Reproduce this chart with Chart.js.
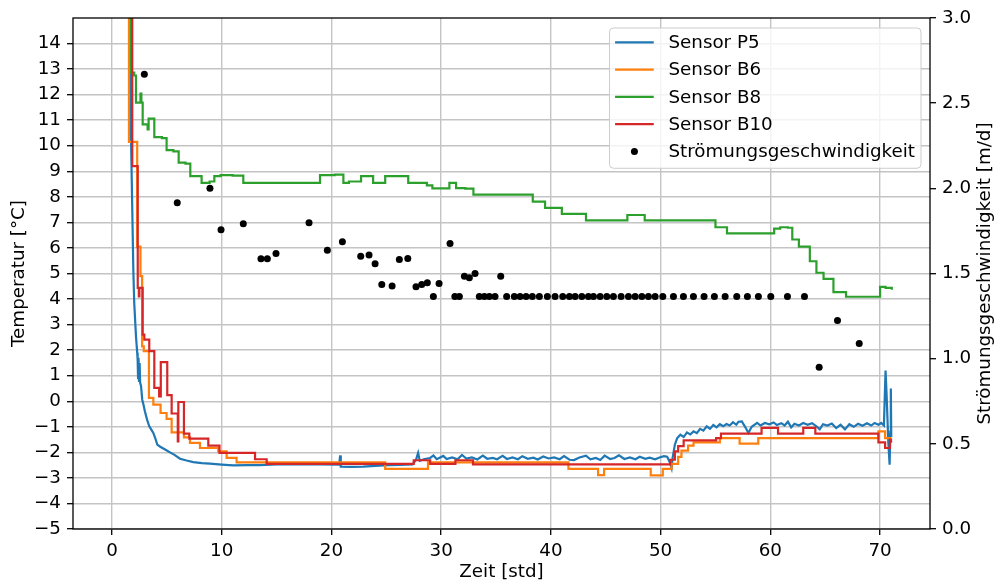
<!DOCTYPE html>
<html>
<head>
<meta charset="utf-8">
<script src="https://cdn.jsdelivr.net/npm/chart.js@4.4.1/dist/chart.umd.min.js"></script>
<style>
  body { margin: 0; background: #fff; }
  canvas { display: block; }
</style>
</head>
<body>
<canvas id="chart" width="996" height="583"></canvas>
<script>
// tick positions
const timeTicks = [0, 10, 20, 30, 40, 50, 60, 70];
const tempTicks = [-5, -4, -3, -2, -1, 0, 1, 2, 3, 4, 5, 6, 7, 8, 9, 10, 11, 12, 13, 14];
const speedTicks = [0, 0.5, 1.0, 1.5, 2.0, 2.5, 3.0];

const seriesLabels = ['Sensor P5', 'Sensor B6', 'Sensor B8', 'Sensor B10', 'Strömungsgeschwindigkeit'];

// [Zeit, Temperatur] - P5 is a plain line, the B sensors change value at each point
const sensorP5 = [
  [1.6, 22], [1.75, 10.0], [1.95, 5.1], [2.03, 3.85], [2.19, 2.54], [2.3, 1.9], [2.34, 1.63], [2.38, 0.9],
  [2.42, 1.7], [2.47, 0.8], [2.52, 1.5], [2.57, 0.72], [2.65, 0.6], [2.76, 0.06], [2.88, -0.15], [3.0, -0.39],
  [3.2, -0.72], [3.4, -0.98], [3.6, -1.12], [3.77, -1.24], [3.95, -1.45], [4.13, -1.7], [4.4, -1.78],
  [4.68, -1.85], [5.0, -1.93], [5.29, -2.0], [5.7, -2.1], [6.2, -2.25], [6.8, -2.32], [7.41, -2.38],
  [8.2, -2.42], [8.93, -2.44], [10.0, -2.48], [11.06, -2.51], [12.3, -2.5], [13.49, -2.5], [15.0, -2.47],
  [17.0, -2.47], [19.0, -2.47], [20.7, -2.48], [20.8, -2.12], [20.85, -2.56], [21.8, -2.57], [22.9, -2.56],
  [24.0, -2.53], [25.2, -2.5], [26.2, -2.49], [27.4, -2.47], [27.7, -2.3], [27.9, -2.02], [28.05, -2.33],
  [28.5, -2.26], [29.0, -2.22], [29.3, -2.12], [29.6, -2.27], [30.2, -2.14], [30.5, -2.26], [31.0, -2.2],
  [31.5, -2.27], [31.9, -2.1], [32.3, -2.24], [32.8, -2.2], [33.3, -2.28], [33.8, -2.13], [34.2, -2.25],
  [34.7, -2.22], [35.1, -2.27], [35.6, -2.14], [36.0, -2.26], [36.5, -2.2], [37.0, -2.27], [37.4, -2.15],
  [37.9, -2.25], [38.4, -2.21], [38.8, -2.28], [39.3, -2.16], [39.8, -2.24], [40.3, -2.2], [40.8, -2.27],
  [41.2, -2.15], [41.7, -2.29], [42.1, -2.3], [42.6, -2.2], [43.2, -2.13], [43.6, -2.27], [44.1, -2.22],
  [44.5, -2.3], [44.9, -2.13], [45.4, -2.26], [45.8, -2.22], [46.2, -2.12], [46.7, -2.26], [47.2, -2.2],
  [47.7, -2.27], [48.1, -2.17], [48.6, -2.25], [49.0, -2.21], [49.5, -2.27], [49.9, -2.2], [50.3, -2.15],
  [50.6, -2.17], [50.85, -2.4], [51.0, -2.61], [51.1, -2.2], [51.3, -1.7], [51.5, -1.45], [51.8, -1.31],
  [52.1, -1.4], [52.4, -1.22], [52.7, -1.3], [53.0, -1.18], [53.3, -1.25], [53.6, -1.08], [53.9, -1.15],
  [54.2, -0.98], [54.5, -1.08], [54.8, -0.93], [55.1, -1.02], [55.4, -0.9], [55.7, -0.98], [56.0, -0.89],
  [56.3, -0.95], [56.6, -0.82], [56.9, -0.92], [57.1, -0.8], [57.4, -0.79], [57.7, -1.0], [58.0, -1.24],
  [58.3, -1.0], [58.8, -0.85], [59.1, -0.95], [59.5, -0.85], [59.9, -0.9], [60.3, -0.83], [60.6, -0.93],
  [61.0, -0.86], [61.3, -0.95], [61.6, -0.8], [61.9, -1.02], [62.2, -0.88], [62.6, -0.95], [63.0, -0.85],
  [63.4, -0.92], [63.8, -0.86], [64.2, -0.98], [64.5, -1.1], [64.8, -0.9], [65.2, -0.95], [65.6, -0.87],
  [66.0, -1.05], [66.4, -0.92], [66.8, -1.1], [67.2, -0.9], [67.6, -1.0], [68.0, -0.88], [68.4, -0.96],
  [68.8, -0.86], [69.2, -0.95], [69.5, -0.85], [69.85, -0.92], [70.1, -0.85], [70.35, -0.95], [70.5, 1.2],
  [70.6, 0.2], [70.75, -1.6], [70.87, -2.48], [70.93, -1.2], [70.98, 0.5], [71.02, -1.4]
];

const sensorB6 = [
  [1.4, 30], [1.55, 10.15], [2.3, 6.05], [2.6, 4.9], [2.75, 2.15], [2.9, 1.96], [3.37, 0.13], [3.77, -0.13],
  [4.43, -0.46], [4.98, -0.69], [5.44, -1.22], [6.56, -1.41], [7.11, -1.63], [8.02, -1.83], [9.69, -1.96],
  [10.45, -2.22], [11.36, -2.39], [24.9, -2.65], [28.8, -2.39], [41.6, -2.65], [44.3, -2.89], [44.85, -2.65],
  [49.1, -2.9], [50.2, -2.65], [51.0, -2.45], [51.6, -2.18], [51.9, -1.93], [52.5, -1.74], [53.0, -1.61],
  [55.4, -1.44], [57.2, -1.66], [58.9, -1.44], [69.85, -1.18], [70.46, -1.44], [71.0, -1.44]
];

const sensorB8 = [
  [1.6, 30], [1.74, 12.86], [2.03, 12.75], [2.19, 11.69], [2.6, 12.04], [2.68, 11.69], [2.8, 10.84],
  [3.25, 10.64], [3.34, 11.06], [3.86, 10.34], [4.55, 10.3], [4.98, 9.83], [5.6, 9.78], [6.08, 9.34],
  [6.7, 9.3], [7.14, 8.81], [8.17, 8.55], [8.9, 8.6], [9.33, 8.81], [9.9, 8.85], [11.0, 8.83], [11.97, 8.55],
  [18.96, 8.85], [20.3, 8.87], [21.09, 8.55], [21.6, 8.6], [22.7, 8.81], [23.8, 8.55], [24.9, 8.81],
  [27.0, 8.55], [28.7, 8.45], [29.2, 8.33], [30.75, 8.55], [31.36, 8.34], [32.2, 8.32], [32.94, 8.09],
  [38.35, 7.81], [39.47, 7.57], [41.0, 7.33], [43.2, 7.08], [46.97, 7.29], [48.55, 7.08], [55.0, 6.81],
  [56.05, 6.57], [60.35, 6.76], [60.9, 6.81], [61.6, 6.79], [62.0, 6.33], [62.6, 6.05], [63.6, 5.48],
  [64.2, 5.03], [64.85, 4.79], [65.75, 4.27], [66.9, 4.09], [70.0, 4.48], [70.5, 4.44], [71.07, 4.36]
];

const sensorB10 = [
  [1.5, 30], [1.85, 9.2], [2.35, 4.44], [2.45, 4.1], [2.5, 4.44], [2.8, 2.61], [2.95, 2.41], [3.4, 1.96],
  [3.86, 0.52], [4.3, 0.19], [4.45, 1.53], [5.04, 0.24], [5.44, -0.48], [6.0, -1.57], [6.05, -0.03],
  [6.56, -1.27], [7.05, -1.46], [8.78, -1.74], [9.8, -2.02], [13.04, -2.27], [14.1, -2.45], [27.5, -2.31],
  [29.0, -2.45], [31.3, -2.31], [32.9, -2.47], [50.87, -2.29], [51.3, -1.96], [51.6, -1.76], [52.1, -1.53],
  [55.06, -1.44], [55.5, -1.27], [59.2, -1.04], [60.7, -1.27], [63.0, -1.04], [64.1, -1.27], [69.85, -1.61],
  [70.46, -1.83], [70.9, -1.5], [71.0, -1.62]
];

// [Zeit, Strömungsgeschwindigkeit m/d]
const flowSpeed = [
  [2.95, 2.67], [5.95, 1.915], [8.93, 2.0], [9.94, 1.757], [11.97, 1.792], [13.58, 1.586], [14.16, 1.586],
  [14.95, 1.618], [17.96, 1.798], [19.63, 1.637], [21.0, 1.686], [22.67, 1.602], [23.43, 1.608],
  [23.98, 1.557], [24.59, 1.435], [25.53, 1.426], [26.19, 1.582], [26.96, 1.588], [27.71, 1.422],
  [28.23, 1.435], [28.74, 1.445], [29.29, 1.365], [29.81, 1.441], [30.81, 1.676], [31.25, 1.365],
  [31.66, 1.365], [32.12, 1.484], [32.57, 1.475], [33.09, 1.5], [33.48, 1.365], [33.94, 1.365],
  [34.39, 1.365], [34.91, 1.365], [35.43, 1.484], [35.97, 1.365], [36.67, 1.365], [37.19, 1.365],
  [37.74, 1.365], [38.31, 1.365], [38.95, 1.365], [39.68, 1.365], [40.38, 1.365], [41.08, 1.365],
  [41.69, 1.365], [42.21, 1.365], [42.82, 1.365], [43.42, 1.365], [43.88, 1.365], [44.49, 1.365],
  [45.1, 1.365], [45.7, 1.365], [46.4, 1.365], [47.07, 1.365], [47.68, 1.365], [48.29, 1.365],
  [48.89, 1.365], [49.5, 1.365], [50.2, 1.365], [51.17, 1.365], [52.08, 1.365], [52.99, 1.365],
  [53.96, 1.365], [54.9, 1.365], [55.88, 1.365], [56.94, 1.365], [57.91, 1.365], [58.91, 1.365],
  [60.04, 1.365], [61.56, 1.365], [63.11, 1.365], [64.45, 0.95], [66.12, 1.224], [68.1, 1.089]
];

const FONT = { family: 'DejaVu Sans', size: 18.3 };
Chart.defaults.font.family = FONT.family;
Chart.defaults.font.size = FONT.size;
Chart.defaults.color = '#000';

function toPoints(pairs) {
  return pairs.map(p => ({ x: p[0], y: p[1] }));
}

function minus(v) {
  return String(v).replace('-', '\u2212');
}

// frame, legend inside the plot and the right axis title (reads bottom to top)
const framePlugin = {
  id: 'framePlugin',
  afterDatasetsDraw(chart) {
    const ctx = chart.ctx;
    const a = chart.chartArea;
    ctx.save();
    ctx.strokeStyle = '#000';
    ctx.lineWidth = 1.3;
    ctx.strokeRect(a.left, a.top, a.right - a.left, a.bottom - a.top);

    ctx.font = FONT.size + 'px "' + FONT.family + '"';
    const sets = chart.data.datasets;
    let textW = 0;
    sets.forEach(ds => { textW = Math.max(textW, ctx.measureText(ds.label).width); });
    const rowH = 27.25;
    const w = 5.6 + 38.7 + 14.7 + textW + 6;
    const h = rowH * sets.length + 4;
    const right = a.right - 9;
    const left = right - w;
    const top = a.top + 10;

    ctx.beginPath();
    ctx.roundRect(left, top, w, h, 4);
    ctx.fillStyle = 'rgba(255,255,255,0.8)';
    ctx.fill();
    ctx.strokeStyle = '#cccccc';
    ctx.lineWidth = 1;
    ctx.stroke();

    sets.forEach((ds, i) => {
      const y = top + 14.4 + i * rowH;
      const hx = left + 5.6;
      if (ds.type === 'scatter') {
        ctx.beginPath();
        ctx.arc(hx + 19.35, y, ds.pointRadius, 0, Math.PI * 2);
        ctx.fillStyle = ds.backgroundColor;
        ctx.fill();
      } else {
        ctx.beginPath();
        ctx.moveTo(hx, y);
        ctx.lineTo(hx + 38.7, y);
        ctx.strokeStyle = ds.borderColor;
        ctx.lineWidth = ds.borderWidth;
        ctx.stroke();
      }
      ctx.fillStyle = '#000';
      ctx.textAlign = 'left';
      ctx.textBaseline = 'middle';
      ctx.fillText(ds.label, hx + 38.7 + 14.7, y + 1);
    });
    ctx.restore();
  },
  afterDraw(chart) {
    const ctx = chart.ctx;
    const a = chart.chartArea;
    ctx.save();
    ctx.font = FONT.size + 'px "' + FONT.family + '"';
    ctx.fillStyle = '#000';
    ctx.translate(chart.width - 11, (a.top + a.bottom) / 2);
    ctx.rotate(-Math.PI / 2);
    ctx.textAlign = 'center';
    ctx.textBaseline = 'middle';
    ctx.fillText('Strömungsgeschwindigkeit [m/d]', 0, 0);
    ctx.restore();
  }
};

const gridStyle = {
  color: '#c4c4c4',
  lineWidth: 1.4,
  tickLength: 6,
  tickColor: '#000',
  tickWidth: 1.3
};

const lineStyle = { pointRadius: 0, borderWidth: 2.2, tension: 0, fill: false, yAxisID: 'y' };

new Chart(document.getElementById('chart'), {
  type: 'line',
  data: {
    datasets: [
      Object.assign({ label: seriesLabels[0], data: toPoints(sensorP5), borderColor: '#1f77b4', order: 4 }, lineStyle),
      Object.assign({ label: seriesLabels[1], data: toPoints(sensorB6), borderColor: '#ff7f0e', stepped: true, order: 3 }, lineStyle),
      Object.assign({ label: seriesLabels[2], data: toPoints(sensorB8), borderColor: '#2ca02c', stepped: true, order: 2 }, lineStyle),
      Object.assign({ label: seriesLabels[3], data: toPoints(sensorB10), borderColor: '#d62728', stepped: true, order: 1 }, lineStyle),
      {
        type: 'scatter',
        label: seriesLabels[4],
        data: toPoints(flowSpeed),
        yAxisID: 'y2',
        backgroundColor: '#000',
        borderColor: '#000',
        borderWidth: 0,
        pointRadius: 3.5,
        order: 0
      }
    ]
  },
  options: {
    responsive: false,
    animation: false,
    layout: { padding: { top: 18, left: 0, right: 0, bottom: 0 } },
    plugins: {
      legend: { display: false },
      tooltip: { enabled: false }
    },
    scales: {
      x: {
        type: 'linear',
        min: -3.55,
        max: 74.55,
        afterBuildTicks: s => { s.ticks = timeTicks.map(v => ({ value: v })); },
        afterFit: s => { s.height = 54; },
        ticks: { padding: 5, maxRotation: 0, autoSkip: false },
        grid: gridStyle,
        border: { display: false },
        title: { display: true, text: 'Zeit [std]', padding: { top: 0, bottom: 0 } }
      },
      y: {
        position: 'left',
        min: -5,
        max: 15,
        afterBuildTicks: s => { s.ticks = tempTicks.map(v => ({ value: v })); },
        afterFit: s => { s.width = 73; },
        ticks: { padding: 6, autoSkip: false, callback: v => minus(v) },
        grid: gridStyle,
        border: { display: false },
        title: { display: true, text: 'Temperatur [°C]', padding: { top: 8, bottom: 0 } }
      },
      y2: {
        position: 'right',
        min: 0,
        max: 3,
        afterBuildTicks: s => { s.ticks = speedTicks.map(v => ({ value: v })); },
        afterFit: s => { s.width = 66; },
        ticks: { padding: 6, autoSkip: false, callback: v => v.toFixed(1) },
        grid: Object.assign({}, gridStyle, { drawOnChartArea: true, color: 'rgba(0,0,0,0)' }),
        border: { display: false }
      }
    }
  },
  plugins: [framePlugin]
});
</script>
</body>
</html>
